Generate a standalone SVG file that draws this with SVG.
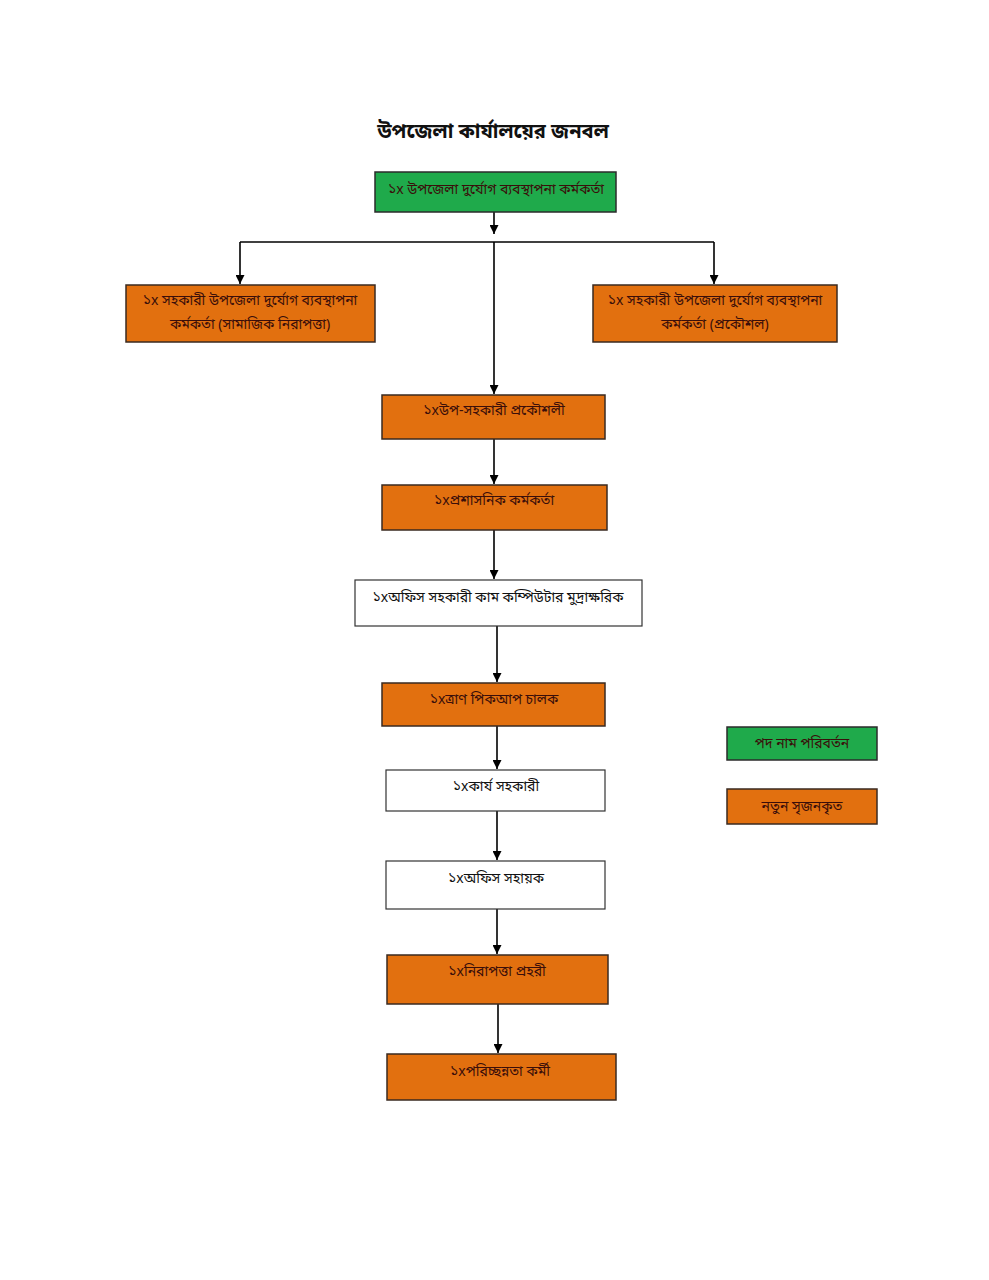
<svg xmlns="http://www.w3.org/2000/svg" width="989" height="1280" viewBox="0 0 989 1280">
<defs>
<marker id="ah" viewBox="0 0 10 10" refX="10" refY="5" markerWidth="9" markerHeight="9" markerUnits="userSpaceOnUse" orient="auto">
<path d="M0,0 L10,5 L0,10 z" fill="#000"/>
</marker>
<style>
text{font-family:"Noto Sans Bengali","Noto Sans","Liberation Sans",sans-serif;font-size:14px;text-anchor:middle}
.g{fill:#1faa4b;stroke:#2b2b2b;stroke-width:1.5}
.o{fill:#e2700f;stroke:#3a2a20;stroke-width:1.5}
.w{fill:#fff;stroke:#333;stroke-width:1.2}
.to{fill:#3a0e0a}
.tw{fill:#111}
.c{stroke:#000;stroke-width:1.6;fill:none}
.a{marker-end:url(#ah)}
</style>
</defs>
<rect width="989" height="1280" fill="#fff"/>
<text id="title" x="493" y="138" style="font-size:20px;font-weight:bold;fill:#111">উপজেলা কার্যালয়ের জনবল</text>

<g id="connectors">
<line class="c a" x1="494" y1="212" x2="494" y2="234"/>
<path class="c" d="M240,242 H714"/>
<line class="c a" x1="240" y1="242" x2="240" y2="284"/>
<line class="c a" x1="714" y1="242" x2="714" y2="284"/>
<line class="c a" x1="494" y1="242" x2="494" y2="394"/>
<line class="c a" x1="494" y1="439" x2="494" y2="484"/>
<line class="c a" x1="494" y1="530" x2="494" y2="579"/>
<line class="c a" x1="497" y1="626" x2="497" y2="682"/>
<line class="c a" x1="497" y1="726" x2="497" y2="769"/>
<line class="c a" x1="497" y1="811" x2="497" y2="860"/>
<line class="c a" x1="497" y1="909" x2="497" y2="954"/>
<line class="c a" x1="498" y1="1004" x2="498" y2="1053"/>
</g>

<g id="n1"><rect class="g" x="375" y="172" width="241" height="40"/><text class="to" x="496" y="194">১x উপজেলা দুর্যোগ ব্যবস্থাপনা কর্মকর্তা</text></g>
<g id="n2"><rect class="o" x="126" y="285" width="249" height="57"/><text class="to" x="250" y="305">১x সহকারী উপজেলা দুর্যোগ ব্যবস্থাপনা</text><text class="to" x="250" y="329">কর্মকর্তা (সামাজিক নিরাপত্তা)</text></g>
<g id="n3"><rect class="o" x="593" y="285" width="244" height="57"/><text class="to" x="715" y="305">১x সহকারী উপজেলা দুর্যোগ ব্যবস্থাপনা</text><text class="to" x="715" y="329">কর্মকর্তা (প্রকৌশল)</text></g>
<g id="n4"><rect class="o" x="382" y="395" width="223" height="44"/><text class="to" x="494" y="415">১xউপ-সহকারী প্রকৌশলী</text></g>
<g id="n5"><rect class="o" x="382" y="485" width="225" height="45"/><text class="to" x="494" y="505">১xপ্রশাসনিক কর্মকর্তা</text></g>
<g id="n6"><rect class="w" x="355" y="580" width="287" height="46"/><text class="tw" x="498" y="602">১xঅফিস সহকারী কাম কম্পিউটার মুদ্রাক্ষরিক</text></g>
<g id="n7"><rect class="o" x="382" y="683" width="223" height="43"/><text class="to" x="494" y="704">১xত্রাণ পিকআপ চালক</text></g>
<g id="n8"><rect class="w" x="386" y="770" width="219" height="41"/><text class="tw" x="496" y="791">১xকার্য সহকারী</text></g>
<g id="n9"><rect class="w" x="386" y="861" width="219" height="48"/><text class="tw" x="496" y="883">১xঅফিস সহায়ক</text></g>
<g id="n10"><rect class="o" x="387" y="955" width="221" height="49"/><text class="to" x="497" y="976">১xনিরাপত্তা প্রহরী</text></g>
<g id="n11"><rect class="o" x="387" y="1054" width="229" height="46"/><text class="to" x="500" y="1076">১xপরিচ্ছন্নতা কর্মী</text></g>

<g id="legend-green"><rect class="g" x="727" y="727" width="150" height="33"/><text class="to" x="802" y="748">পদ নাম পরিবর্তন</text></g>
<g id="legend-orange"><rect class="o" x="727" y="789" width="150" height="35"/><text class="to" x="802" y="811">নতুন সৃজনকৃত</text></g>
</svg>
